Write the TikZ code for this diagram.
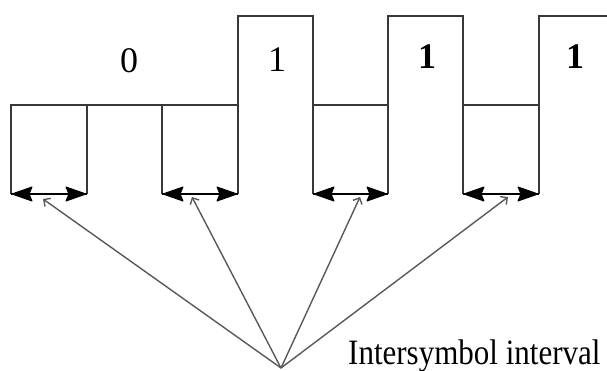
\documentclass[tikz,border=0pt]{standalone}
\usepackage{fontspec}
\setmainfont{Liberation Serif}
\usetikzlibrary{arrows.meta}
\begin{document}
\begin{tikzpicture}[x=1pt,y=-1pt,
  wave/.style={line width=2.5pt, draw=black!78, line join=miter},
  gap/.style={line width=2.2pt, draw=black},
  head/.style={fill=black, draw=black, line width=1pt, line join=round},
  pointer/.style={line width=1.4pt, draw=black!65,
    arrows={-Straight Barb[length=5pt,width=10pt]}},
  bit/.style={font=\fontsize{36}{40}\selectfont, inner sep=0pt},
  lbl/.style={font=\fontsize{31}{36}\selectfont, inner sep=0pt, anchor=base west}]
\useasboundingbox (0,0) rectangle (607,371);

% signal waveform: low level y=105, high level y=16, edges drop to y=194
\draw[wave] (11,194) -- (11,105) -- (238,105);
\draw[wave] (87,105) -- (87,194);
\draw[wave] (162,105) -- (162,194);
\draw[wave] (238,194) -- (238,16) -- (313,16) -- (313,194);
\draw[wave] (313,105) -- (388,105);
\draw[wave] (388,194) -- (388,16) -- (463,16) -- (463,194);
\draw[wave] (463,105) -- (539,105);
\draw[wave] (539,194) -- (539,16) -- (607,16);

% bit values
\node[bit] (b1) at (129,61) {0};
\node[bit] (b2) at (277,60) {1};
\node[bit] (b3) at (427,57) {\bfseries 1};
\node[bit] (b4) at (575,57) {\bfseries 1};

% interval ends
\coordinate (g1a) at (11,194);  \coordinate (g1b) at (87,194);
\coordinate (g2a) at (162,194); \coordinate (g2b) at (238,194);
\coordinate (g3a) at (313,194); \coordinate (g3b) at (388,194);
\coordinate (g4a) at (463,194); \coordinate (g4b) at (539,194);

% double-headed interval arrows with heavy filled heads
\foreach \i in {1,2,3,4} {
  \draw[gap] (g\i a) -- (g\i b);
  \filldraw[head] ([xshift=1pt]g\i a) -- ++(20,-7) -- ++(-3,7) -- ++(3,7) -- cycle;
  \filldraw[head] ([xshift=-1pt]g\i b) -- ++(-20,-7) -- ++(3,7) -- ++(-3,7) -- cycle;
}

% pointers from the common origin
\coordinate (hub) at (281,368);
\coordinate (p1) at (43,199);
\coordinate (p2) at (192,197);
\coordinate (p3) at (360,197);
\coordinate (p4) at (508,197);
\foreach \p in {p1,p2,p3,p4} \draw[pointer] (hub) -- (\p);

\node[lbl] (lbl) at (348,364) {\scalebox{1}[1.15]{Intersymbol interval}};
\end{tikzpicture}
\end{document}
